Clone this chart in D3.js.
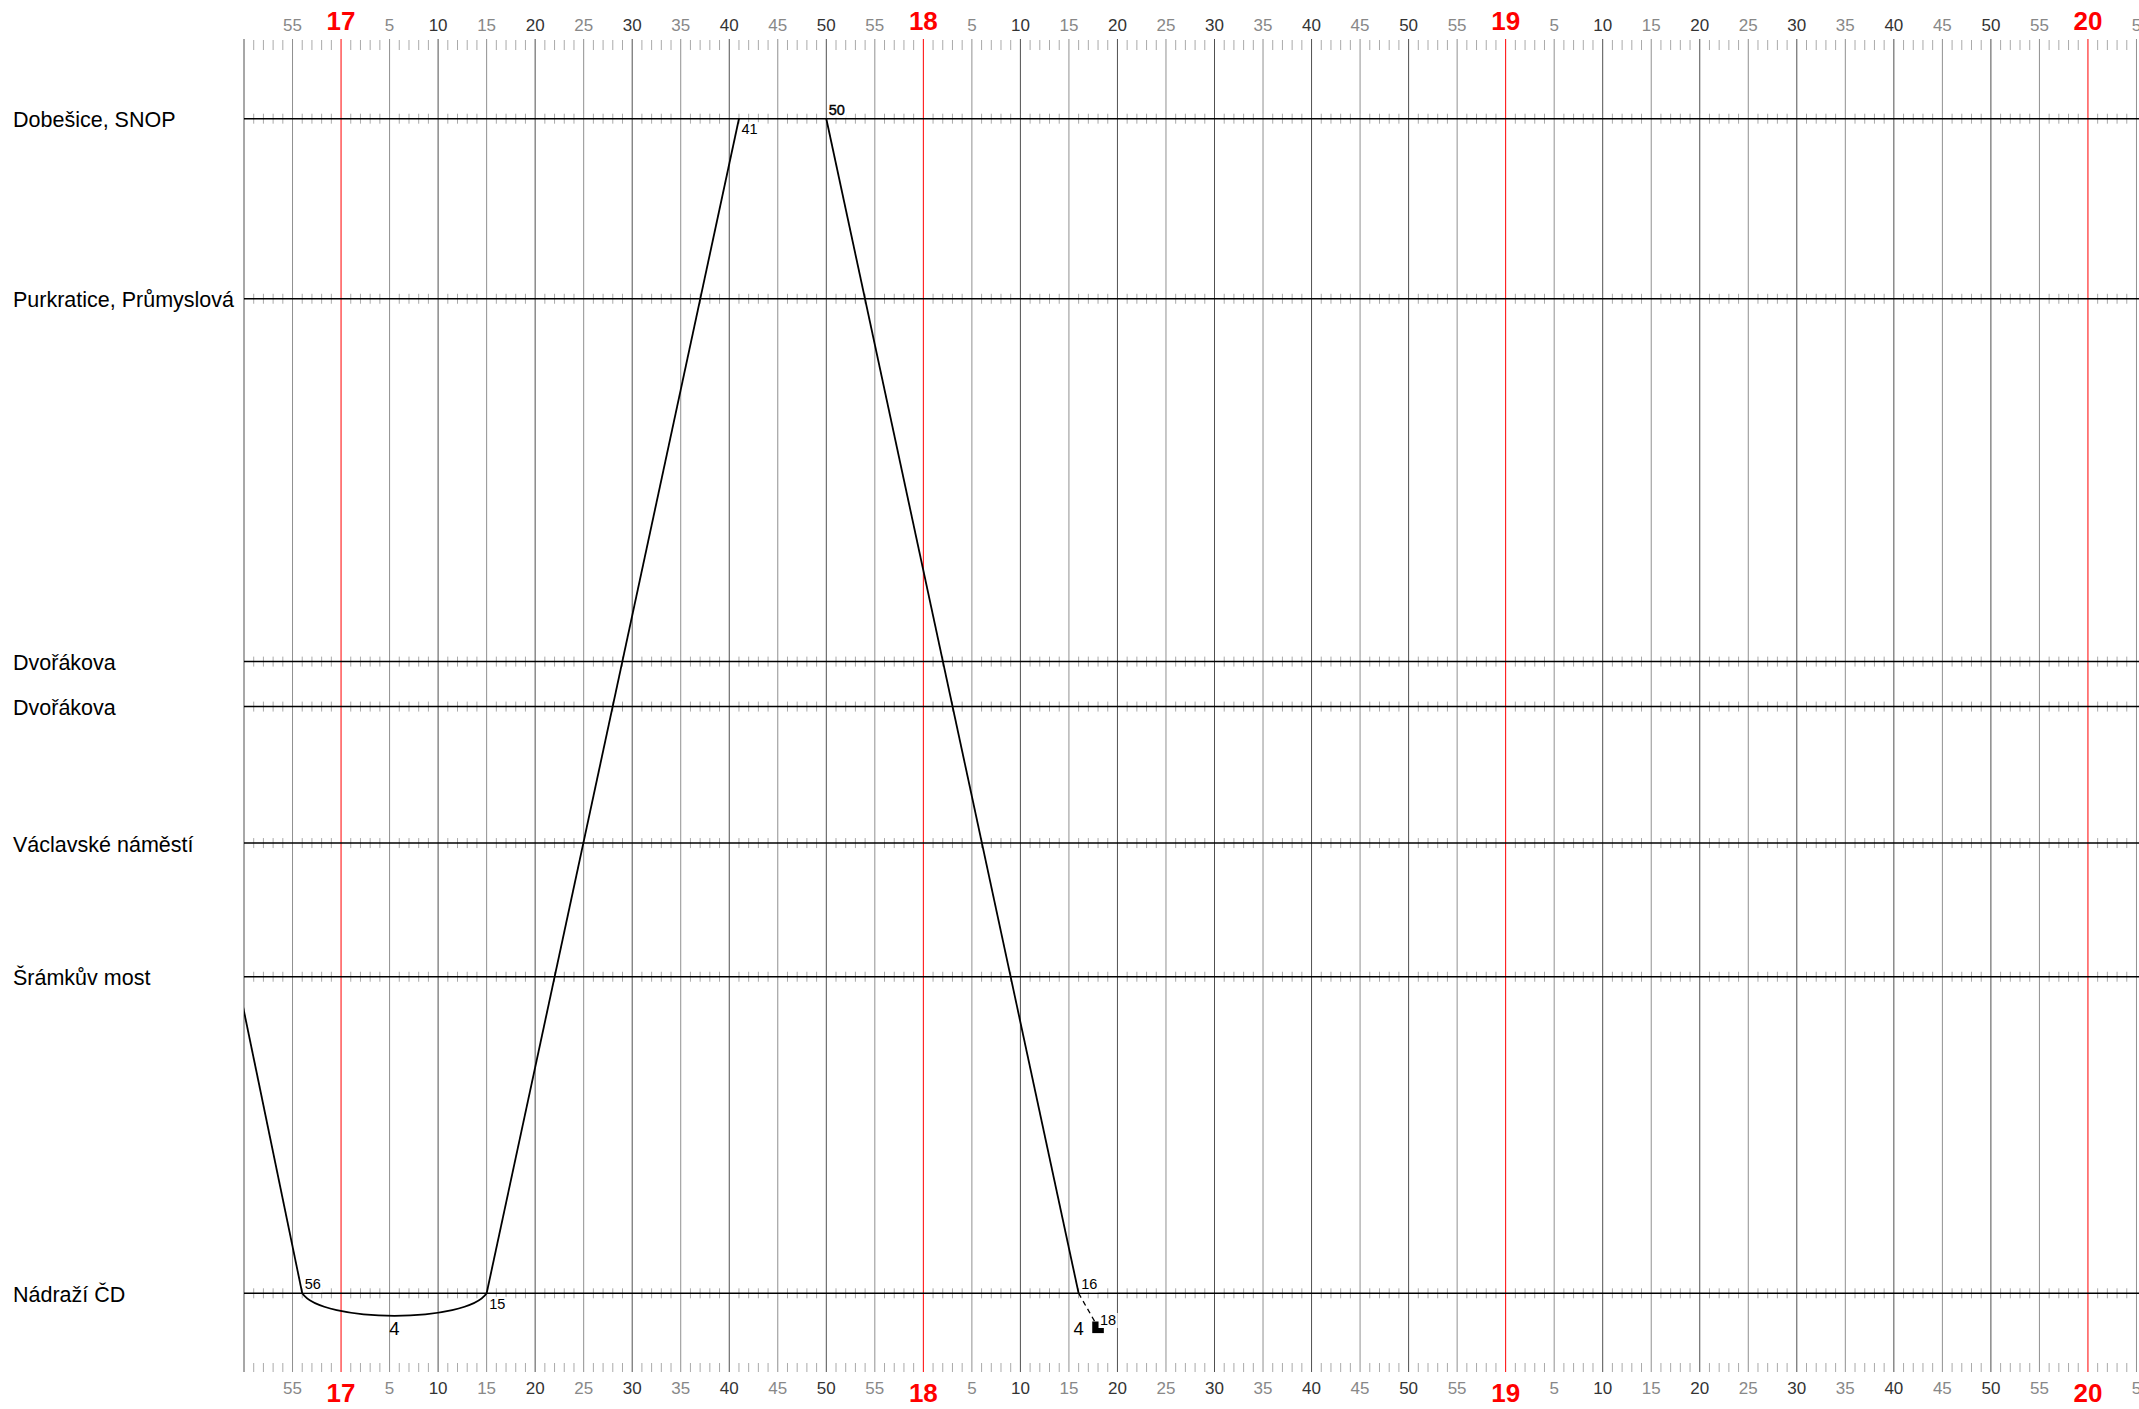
<!DOCTYPE html>
<html><head><meta charset="utf-8">
<script src="https://cdn.jsdelivr.net/npm/d3@7"></script>
<style>
html,body{margin:0;padding:0;overflow:hidden;background:#fff;}
text{font-family:"Liberation Sans",Arial,Helvetica,sans-serif;}
</style></head><body>
<svg id="chart" width="2139" height="1409"></svg>
<script>
// ---- data ----
const stationNames = ["Dobešice, SNOP","Purkratice, Průmyslová","Dvořákova","Dvořákova","Václavské náměstí","Šrámkův most","Nádraží ČD"];
const stationPos = [0,153.3,462.2,500.5,616.7,730.5,1000];
const timeStart = "16:50";
const timeEnd = "20:10";
const tripTimes = [["16:31","16:56"],["17:15","17:41"],["17:50","18:16"]];
const tripStations = [[0,6],[6,0],[0,6]];
const layoverTimes = [["16:56","17:15"]];
const layoverStations = [6];
const courseNumber = "4";
const courseLabelTimes = [["16:56","17:15"],["18:16","18:16"]];
const courseLabelStations = [6,6];
const pullInTimes = ["18:16","18:18"];
const pullInStation = 6;
const timeLabelTimes = ["16:56","17:15","17:41","17:50","18:16","18:18"];
const timeLabelStations = [6,6,0,0,6,6];
const timeLabelSides = ["above","below","below","above","above","end"];

// ---- helpers ----
const tm = s => { const [h,m] = s.split(":").map(Number); return h*60+m; };
const W = 2139, H = 1409;
const left = 244, pxPerMin = 9.705;
const gridTop = 39, gridBottom = 1372;
const t0 = tm(timeStart), t1 = tm(timeEnd);
const x = d3.scaleLinear().domain([t0,t1]).range([left, left + (t1-t0)*pxPerMin]);
const y = d3.scaleLinear().domain([0,1000]).range([118.7,1293.3]);
const sy = i => y(stationPos[i]);

const svg = d3.select("#chart");
svg.append("defs").append("clipPath").attr("id","plotclip")
  .append("rect").attr("x",left).attr("y",0).attr("width",W-left).attr("height",H);

const minutes = d3.range(t0, t1+1);
const fives = minutes.filter(m => m%5===0);
const singles = minutes.filter(m => m%5!==0);

// minute ticks
const tickG = svg.append("g").attr("stroke","#aaa").attr("stroke-width",1);
const tickRows = [[gridTop+1,50],[1363,gridBottom]];
stationPos.forEach((p,i)=> tickRows.push([sy(i)-5, sy(i)+5]));
tickRows.forEach(r => {
  tickG.selectAll(null).data(singles).join("line")
    .attr("x1",d=>x(d)).attr("x2",d=>x(d)).attr("y1",r[0]).attr("y2",r[1]);
});

// vertical grid
svg.append("g").selectAll("line").data(fives).join("line")
  .attr("x1",d=>x(d)).attr("x2",d=>x(d)).attr("y1",gridTop).attr("y2",gridBottom)
  .attr("stroke",d=> d%60===0 ? "#ff0000" : (d%10===0 ? "#505050" : "#909090"))
  .attr("stroke-width",1);

// station lines
svg.append("g").selectAll("line").data(stationPos).join("line")
  .attr("x1",left).attr("x2",W).attr("y1",(d,i)=>sy(i)).attr("y2",(d,i)=>sy(i))
  .attr("stroke","#000").attr("stroke-width",1.5);

// station labels
svg.append("g").selectAll("text").data(stationNames).join("text")
  .attr("x",13).attr("y",(d,i)=>sy(i)+8.5).attr("font-size",21.5).attr("fill","#000").text(d=>d);

// time axis labels (top & bottom)
const labelTimes = fives.filter(m => m>t0);
[[30.5,29.5],[1394,1402]].forEach(([minBase,hourBase]) => {
  svg.append("g").selectAll("text").data(labelTimes).join("text")
    .attr("x",d=>x(d)).attr("y",d=> d%60===0 ? hourBase : minBase)
    .attr("text-anchor","middle")
    .attr("font-size",d=> d%60===0 ? 26 : 17)
    .attr("font-weight",d=> d%60===0 ? "bold" : "normal")
    .attr("fill",d=> d%60===0 ? "#ff0000" : (d%10===0 ? "#333" : "#888"))
    .text(d=> d%60===0 ? String(d/60) : String(d%60));
});

// trains
const plot = svg.append("g").attr("clip-path","url(#plotclip)");
const line = d3.line().x(d=>x(d[0])).y(d=>sy(d[1]));
tripTimes.forEach((tt,i) => {
  const pts = tt.map((t,j)=>[tm(t), tripStations[i][j]]);
  plot.append("path").attr("d",line(pts)).attr("fill","none")
    .attr("stroke","#000").attr("stroke-width",1.8);
});
layoverTimes.forEach((tt,i) => {
  const xa = x(tm(tt[0])), xb = x(tm(tt[1])), yy = sy(layoverStations[i]);
  const p = d3.path();
  p.moveTo(xa,yy);
  p.bezierCurveTo(xa+20,yy+30,xb-20,yy+30,xb,yy);
  plot.append("path").attr("d",p.toString()).attr("fill","none")
    .attr("stroke","#000").attr("stroke-width",1.8);
});
// pull-in (dashed to end marker)
const pxA = x(tm(pullInTimes[0])), pxB = x(tm(pullInTimes[1]));
const pyA = sy(pullInStation), pyB = pyA + 34;
plot.append("line").attr("x1",pxA).attr("y1",pyA).attr("x2",pxB).attr("y2",pyB)
  .attr("stroke","#000").attr("stroke-width",1.3).attr("stroke-dasharray","5,4");
plot.append("rect").attr("x",pxB-5.8).attr("y",pyB-5.8).attr("width",11.6).attr("height",11.6).attr("fill","#000");

// course labels
courseLabelTimes.forEach((tt,i) => {
  const xm = (x(tm(tt[0]))+x(tm(tt[1])))/2;
  svg.append("text").attr("x",xm).attr("y",sy(courseLabelStations[i])+42)
    .attr("text-anchor","middle").attr("font-size",18.5).attr("fill","#000").text(courseNumber);
});

// time labels with white background
timeLabelTimes.forEach((t,i) => {
  const m = tm(t), px = x(m), py = sy(timeLabelStations[i]);
  const side = timeLabelSides[i];
  let tx = px+2.5, ty;
  if (side==="above") ty = py-4;
  else if (side==="below") ty = py+15.5;
  else { tx = px+2; ty = py+31.7; }
  const g = svg.append("g");
  const r = g.append("rect").attr("fill","#fff");
  const txt = g.append("text").attr("x",tx).attr("y",ty).attr("font-size",14.5).attr("fill","#000").text(String(m%60));
  if (t === "17:50") txt.attr("stroke","#000").attr("stroke-width",0.4);
  const b = txt.node().getBBox();
  r.attr("x",b.x-1.5).attr("y",b.y+1).attr("width",b.width+3).attr("height",b.height-1);
});
</script>
</body></html>
